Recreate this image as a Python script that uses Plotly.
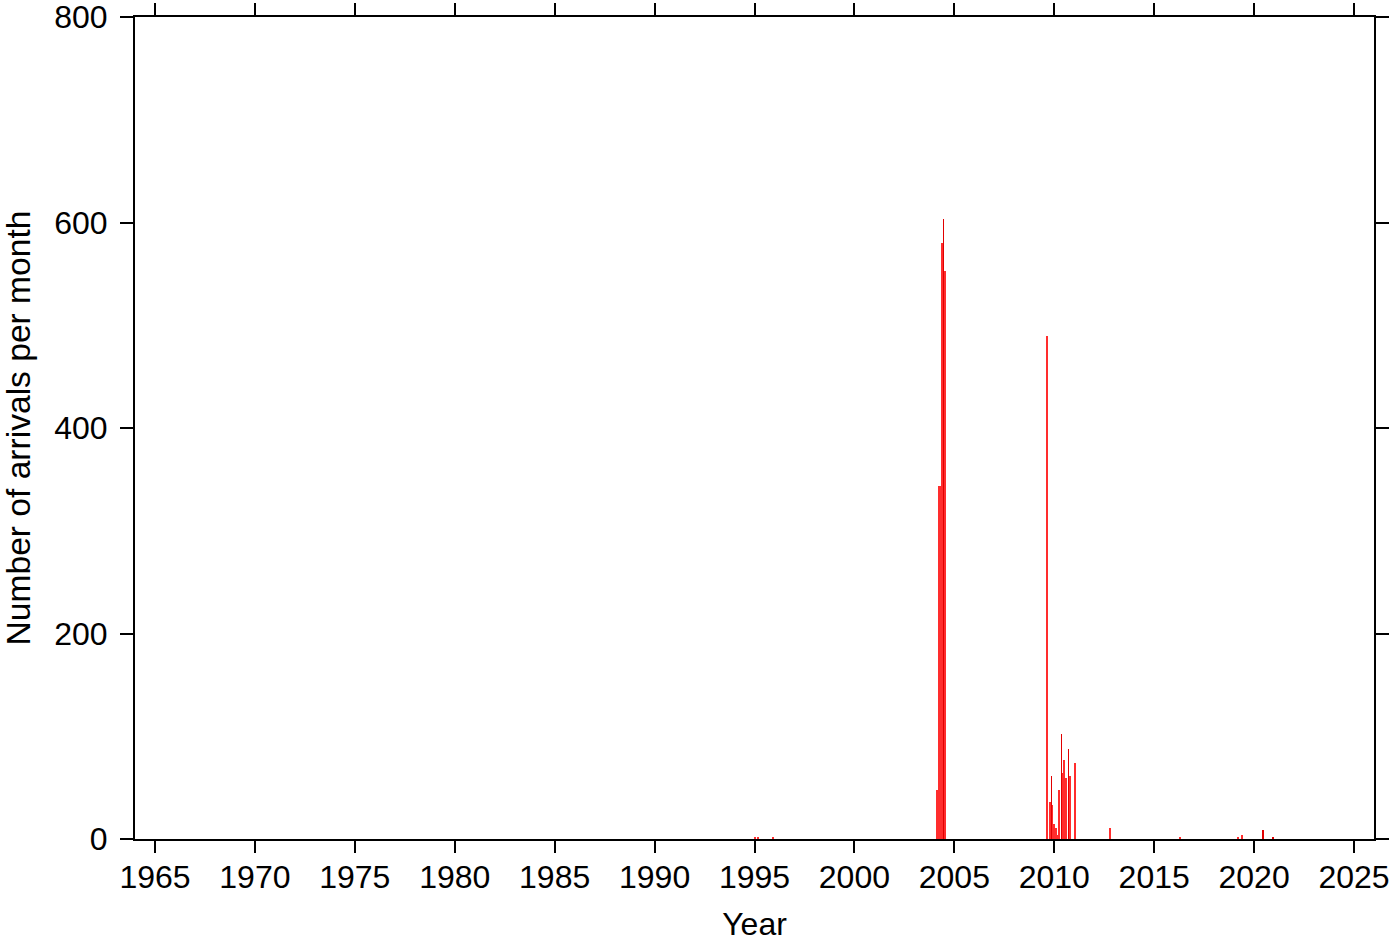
import plotly.graph_objects as go

# Monthly arrival counts (decimal year of bar centre, count)
month_years = [1995.03, 1995.17, 1995.95,
               2004.17, 2004.27, 2004.40, 2004.535,
               2009.64, 2009.80, 2009.915, 2010.01, 2010.09, 2010.16,
               2010.26, 2010.40, 2010.515, 2010.59, 2010.785, 2011.06,
               2012.80, 2016.30, 2019.20, 2019.40]
month_counts = [2, 2, 1,
                48, 344, 580, 553,
                490, 36, 33, 15, 11, 4,
                48, 64, 77, 59, 61, 74,
                11, 1, 1, 4]

# Narrow spikes drawn over the monthly bars
spike_years = [2004.465, 2009.865, 2010.36, 2010.715, 2020.45, 2020.95]
spike_counts = [603, 61, 102, 88, 9, 1]

x_ticks = list(range(1965, 2030, 5))
y_ticks = [0, 200, 400, 600, 800]

FONT = "Liberation Sans, Arial, Helvetica, sans-serif"

fig = go.Figure()
fig.add_trace(go.Bar(x=month_years, y=month_counts, width=1/12,
                     marker=dict(color="rgb(255,45,45)", line=dict(width=0)),
                     showlegend=False))
fig.add_trace(go.Bar(x=spike_years, y=spike_counts, width=0.03,
                     marker=dict(color="rgb(225,0,0)", line=dict(width=0)),
                     showlegend=False))

fig.update_layout(
    width=1400, height=942,
    margin=dict(l=135, r=26, t=17, b=103, autoexpand=False),
    paper_bgcolor="white", plot_bgcolor="white",
    barmode="overlay", bargap=0,
    font=dict(family=FONT, size=32, color="black"),
)
fig.update_xaxes(range=[1964.0, 2026.0], tickvals=x_ticks, automargin=False,
                 ticks="outside", ticklen=12, tickwidth=1.5, tickcolor="black",
                 showline=True, linewidth=2, linecolor="black", mirror="ticks",
                 showgrid=False, zeroline=False, ticklabeloverflow="allow",
                 ticklabelstandoff=-3,
                 tickfont=dict(family=FONT, size=32),
                 title=dict(text="Year", standoff=34, font=dict(family=FONT, size=32)))
fig.update_yaxes(range=[0, 800], tickvals=y_ticks, automargin=False,
                 ticks="outside", ticklen=13, tickwidth=1.5, tickcolor="black",
                 showline=True, linewidth=2, linecolor="black", mirror="ticks",
                 showgrid=False, zeroline=False, ticklabeloverflow="allow",
                 ticklabelstandoff=6,
                 tickfont=dict(family=FONT, size=32),
                 title=dict(text="Number of arrivals per month", standoff=18,
                            font=dict(family=FONT, size=33.6)))

fig.write_html("out.html", config={"displayModeBar": False},
               post_script="document.body.style.margin='0px';")
